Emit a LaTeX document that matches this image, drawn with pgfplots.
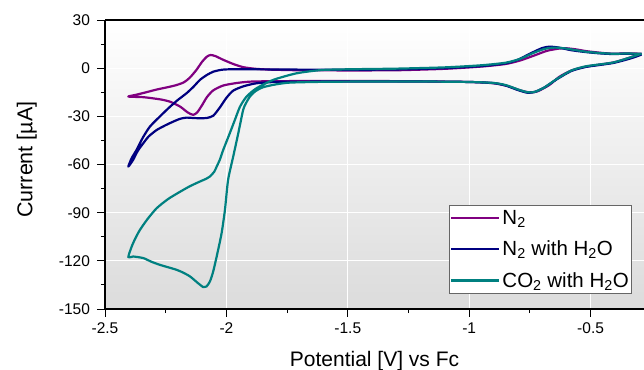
\documentclass[border=0pt]{standalone}
\usepackage{fontspec}
\setmainfont{Liberation Sans}
\usepackage{pgfplots}
\pgfplotsset{compat=1.18}
\definecolor{cpurple}{HTML}{800080}
\definecolor{cnavy}{HTML}{000080}
\definecolor{cteal}{HTML}{008080}
\begin{document}
\begin{tikzpicture}
\begin{axis}[
  scale only axis, width=539bp, height=289bp,
  xmin=-2.5, xmax=-0.28, ymin=-150, ymax=30,
  axis x line*=bottom, axis y line*=left,
  x axis line style={-, line width=1.1bp}, y axis line style={-, line width=1.1bp},
  xtick={-2.5,-2,-1.5,-1,-0.5}, ytick={-150,-120,-90,-60,-30,0,30},
  minor x tick num=1, minor y tick num=1,
  tick align=outside,
  major tick length=7.5bp, minor tick length=4bp,
  every tick/.style={black, line width=0.9bp},
  /pgf/number format/assume math mode=true,
  ticklabel style={font=\fontsize{15.5bp}{18bp}\selectfont},
  xticklabel style={yshift=-3bp},
  yticklabel style={xshift=-4bp},
  grid=major, major grid style={white, line width=0.8bp},
  axis background/.style={top color=white, bottom color=black!14},
  xlabel={\fontsize{21bp}{25bp}\selectfont Potential [V] vs Fc},
  ylabel={\fontsize{21.5bp}{25bp}\selectfont Current [µA]},
  xlabel style={at={(axis description cs:0.5,0)}, anchor=base, yshift=-57bp},
  ylabel style={at={(axis description cs:-0.145,0.517)}, anchor=center},
  legend cell align=left,
  legend style={at={(rel axis cs:0.978,0.052)}, anchor=south east, font=\fontsize{20.5bp}{24bp}\selectfont, draw=black!60, fill=white, line width=0.7bp, row sep=11bp, inner xsep=1bp, inner ysep=3bp, nodes={inner sep=2bp}},
  legend image code/.code={\draw[#1, line width=2.2bp] (0bp,0bp) -- (48bp,0bp);},
  every axis plot/.append style={line width=2.2bp, line join=round},
]
\coordinate (SW) at (rel axis cs:0,0);
\coordinate (NE) at (rel axis cs:1,1);
\addplot[cpurple, smooth, tension=0.4] coordinates {
(-0.29,9) (-0.33,7.0) (-0.408,3.5) (-0.518,1.0) (-0.58,-1.5) (-0.63,-5.5) (-0.67,-10.5) (-0.72,-14.5) (-0.755,-15.0) (-0.79,-13.8) (-0.84,-11.2) (-0.90,-9.4) (-1.0,-8.6) (-1.2,-8.2) (-1.4,-8.0) (-1.6,-8.0) (-1.8,-8.1) (-1.903,-8.4) (-1.96,-9.3) (-2.013,-10.8) (-2.054,-13.8) (-2.08,-18) (-2.10,-23) (-2.12,-27.5) (-2.137,-29.1) (-2.16,-27.5) (-2.19,-24) (-2.23,-21) (-2.27,-19.5) (-2.34,-18.1) (-2.404,-17.7)
(-2.37,-16.5) (-2.33,-15) (-2.287,-13.3) (-2.24,-11.8) (-2.205,-10.5) (-2.175,-8.8) (-2.15,-5.8) (-2.123,-1) (-2.10,4) (-2.08,7.2) (-2.065,8.2) (-2.045,7.5) (-2.013,5.2) (-1.97,2.5) (-1.93,0.6) (-1.88,-0.4) (-1.82,-0.9) (-1.7,-1.3) (-1.5,-1.4) (-1.3,-1.3) (-1.1,-0.4) (-0.95,1.0) (-0.85,2.6) (-0.79,4.8) (-0.73,8.0) (-0.68,10.8) (-0.63,12.2) (-0.60,12.4) (-0.56,11.7) (-0.518,10.6) (-0.46,9.6) (-0.408,9.0) (-0.35,9.2) (-0.29,9)
};
\addlegendentry{N\textsubscript{2}}
\addplot[cnavy, smooth, tension=0.4] coordinates {
(-0.29,8.5) (-0.33,6.3) (-0.408,3.2) (-0.518,0.8) (-0.58,-1.8) (-0.64,-7) (-0.69,-12) (-0.73,-14.8) (-0.76,-15.3) (-0.80,-13.6) (-0.85,-10.8) (-0.90,-9.3) (-1.0,-8.6) (-1.2,-8.3) (-1.5,-8.3) (-1.7,-8.4) (-1.80,-8.6) (-1.876,-9.4) (-1.93,-11.3) (-1.972,-14) (-2.0,-18.5) (-2.027,-24.5) (-2.054,-29.6) (-2.08,-31) (-2.109,-31.2) (-2.14,-31) (-2.164,-30.8) (-2.19,-31.5) (-2.219,-33.3) (-2.25,-35.5) (-2.287,-38.5) (-2.32,-42.5) (-2.342,-46.7) (-2.365,-51.5) (-2.384,-57.1) (-2.404,-61.3)
(-2.39,-56) (-2.37,-50.9) (-2.345,-43.5) (-2.315,-36.4) (-2.27,-29.5) (-2.232,-24) (-2.20,-19.8) (-2.164,-15.6) (-2.135,-11.5) (-2.109,-7.3) (-2.08,-4.2) (-2.054,-2.2) (-2.02,-1.0) (-1.986,-0.7) (-1.9,-0.7) (-1.7,-0.9) (-1.5,-1.0) (-1.3,-0.8) (-1.1,0) (-0.95,1.3) (-0.85,3.0) (-0.80,5.2) (-0.75,9.0) (-0.70,12.5) (-0.669,13.4) (-0.63,12.8) (-0.58,11.2) (-0.518,10.0) (-0.46,9.2) (-0.408,8.8) (-0.35,9.0) (-0.29,8.5)
};
\addlegendentry{N\textsubscript{2} with H\textsubscript{2}O}
\addplot[cteal, smooth, tension=0.4] coordinates {
(-0.29,9) (-0.33,7) (-0.408,3.5) (-0.518,1.2) (-0.58,-1.5) (-0.64,-6.8) (-0.69,-12) (-0.73,-14.8) (-0.76,-15.0) (-0.80,-13.2) (-0.85,-10.5) (-0.90,-9.2) (-1.0,-8.6) (-1.2,-8.3) (-1.4,-8.3) (-1.6,-8.5) (-1.739,-9.0) (-1.80,-10.2) (-1.849,-11.9) (-1.88,-14.3) (-1.903,-17.7) (-1.92,-22) (-1.931,-26) (-1.951,-40.5) (-1.972,-55.1) (-1.993,-69.6) (-2.006,-88.3) (-2.02,-103) (-2.04,-117.3) (-2.055,-127) (-2.068,-132.9) (-2.082,-136) (-2.095,-136.4) (-2.12,-133.5) (-2.15,-129.7) (-2.18,-127.2) (-2.205,-125.6) (-2.24,-124) (-2.274,-122.5) (-2.31,-120.5) (-2.342,-118.3) (-2.384,-117.3) (-2.404,-117.7)
(-2.39,-111.1) (-2.375,-106) (-2.356,-100.7) (-2.325,-94) (-2.287,-87.2) (-2.24,-81.5) (-2.19,-76.9) (-2.15,-73.5) (-2.109,-70.6) (-2.082,-68.8) (-2.068,-67.5) (-2.05,-64.5) (-2.04,-61.3) (-2.027,-57) (-2.013,-50.9) (-1.986,-40.5) (-1.965,-32.2) (-1.944,-24) (-1.917,-17.7) (-1.876,-12.5) (-1.807,-7.3) (-1.711,-3.2) (-1.602,-1.1) (-1.45,-0.6) (-1.3,-0.3) (-1.1,0.5) (-0.95,1.8) (-0.85,3.4) (-0.79,5.8) (-0.74,9.2) (-0.69,12.0) (-0.65,12.8) (-0.61,12.4) (-0.56,11.2) (-0.518,10.2) (-0.46,9.4) (-0.408,9.0) (-0.35,9.1) (-0.29,9)
};
\addlegendentry{CO\textsubscript{2} with H\textsubscript{2}O}
\end{axis}
\draw[line width=1.1bp] (SW |- NE) -- (NE);
\pgfresetboundingbox
\path[use as bounding box] ([xshift=-105bp,yshift=-61bp]SW) rectangle ([yshift=20bp]NE);
\end{tikzpicture}
\end{document}
